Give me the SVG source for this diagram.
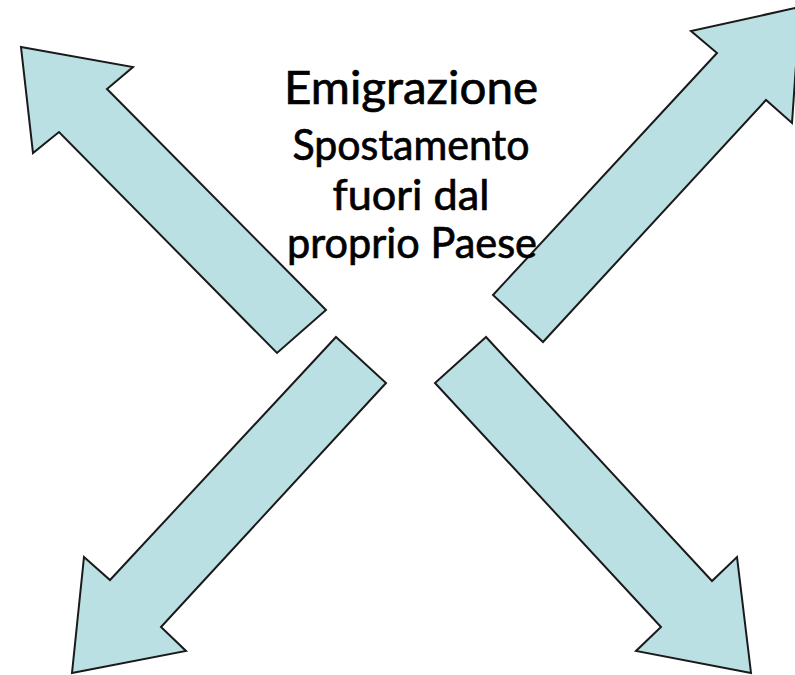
<svg xmlns="http://www.w3.org/2000/svg" width="795" height="675" viewBox="0 0 795 675">
<style>
.arrow{fill:#bbe0e3;stroke:#1a1a1a;stroke-width:2;stroke-linejoin:miter}
.t{font-family:"Lato","Open Sans","Liberation Sans",sans-serif;fill:#000;stroke:#000;stroke-width:0.7;text-anchor:middle}
</style>
<rect width="795" height="675" fill="#fff"/>
<g id="connectors">
<g id="arrow-nw"><polygon class="arrow" points="21,47 133,67 107,89 326,310 277,353 59,132 33,153"/></g>
<g id="arrow-ne"><polygon class="arrow" points="800,7 792,123 766,100 543,342 493,295 717,53 691,31"/></g>
<g id="arrow-sw"><polygon class="arrow" points="336,337 386,383 161,627 186,651 72,673 84,557 110,580"/></g>
<g id="arrow-se"><polygon class="arrow" points="486,337 435,383 661,627 636,651 751,673 737,557 712,581"/></g>
</g>
<g id="label">
<text class="t" x="411" y="104" font-size="47" textLength="254" lengthAdjust="spacingAndGlyphs">Emigrazione</text>
<text class="t" x="411" y="160" font-size="43" textLength="237" lengthAdjust="spacingAndGlyphs">Spostamento</text>
<text class="t" x="411" y="210" font-size="43" textLength="157" lengthAdjust="spacingAndGlyphs">fuori dal</text>
<text class="t" x="412" y="258" font-size="43" textLength="250" lengthAdjust="spacingAndGlyphs">proprio Paese</text>
</g>
</svg>
